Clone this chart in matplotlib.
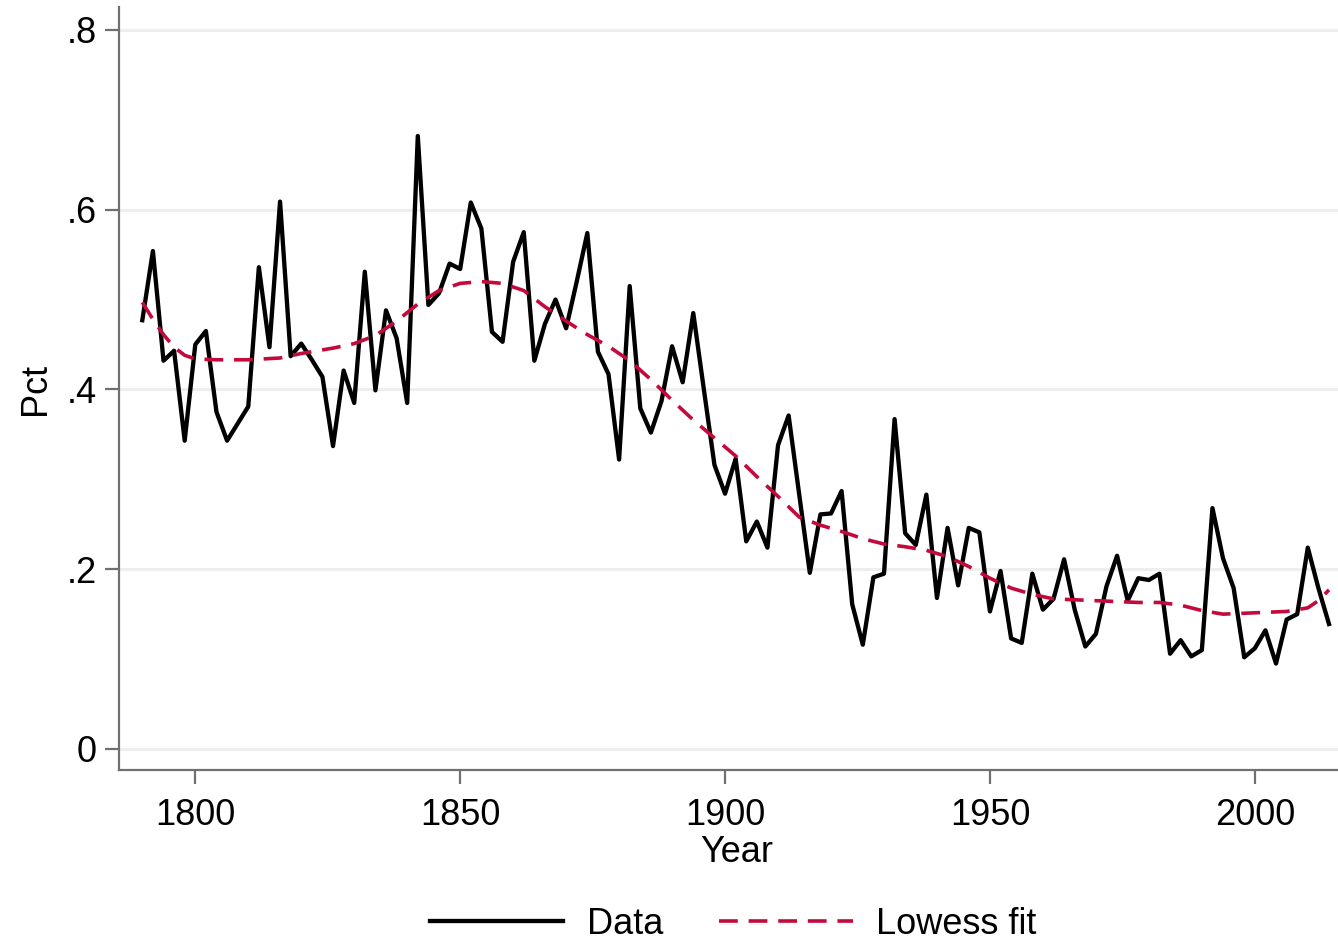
import matplotlib
matplotlib.use('Agg')
import matplotlib.pyplot as plt

plt.rcParams['font.family'] = ['Liberation Sans', 'DejaVu Sans']

# biennial values 1790-2014
years = list(range(1790, 2015, 2))
pct = [0.477, 0.554, 0.432, 0.443, 0.343, 0.450, 0.465, 0.375, 0.343, 0.362,
       0.381, 0.536, 0.447, 0.609, 0.437, 0.451, 0.433, 0.414, 0.337, 0.421,
       0.385, 0.531, 0.399, 0.488, 0.457, 0.385, 0.682, 0.494, 0.507, 0.540,
       0.534, 0.608, 0.579, 0.464, 0.453, 0.542, 0.575, 0.432, 0.473, 0.500,
       0.468, 0.520, 0.574, 0.442, 0.417, 0.322, 0.515, 0.379, 0.352, 0.387,
       0.448, 0.408, 0.485, 0.400, 0.316, 0.284, 0.323, 0.231, 0.253, 0.224,
       0.338, 0.371, 0.283, 0.196, 0.261, 0.262, 0.287, 0.161, 0.116, 0.191,
       0.195, 0.367, 0.240, 0.227, 0.283, 0.168, 0.246, 0.182, 0.246, 0.241,
       0.153, 0.198, 0.123, 0.118, 0.195, 0.155, 0.167, 0.211, 0.155, 0.114,
       0.128, 0.181, 0.215, 0.165, 0.190, 0.188, 0.195, 0.106, 0.121, 0.103,
       0.110, 0.268, 0.212, 0.179, 0.102, 0.112, 0.132, 0.095, 0.144, 0.150,
       0.224, 0.179, 0.139]

# lowess curve
fit_years = [1790, 1792, 1794, 1796, 1798, 1800, 1804, 1810, 1816, 1820, 1826,
             1830, 1834, 1838, 1842, 1846, 1850, 1854, 1858, 1862, 1866, 1870,
             1874, 1878, 1882, 1886, 1890, 1894, 1898, 1902, 1906, 1910, 1914,
             1918, 1922, 1926, 1930, 1934, 1938, 1942, 1946, 1950, 1954, 1958,
             1962, 1966, 1970, 1974, 1978, 1982, 1986, 1990, 1994, 1998, 2002,
             2006, 2010, 2012, 2014]
fit = [0.497, 0.478, 0.461, 0.447, 0.438, 0.434, 0.433, 0.433, 0.435, 0.440,
       0.446, 0.451, 0.460, 0.476, 0.495, 0.510, 0.518, 0.520, 0.518, 0.510,
       0.492, 0.476, 0.461, 0.448, 0.432, 0.411, 0.388, 0.366, 0.346, 0.326,
       0.303, 0.281, 0.258, 0.249, 0.242, 0.234, 0.228, 0.225, 0.221, 0.214,
       0.203, 0.190, 0.179, 0.172, 0.167, 0.166, 0.165, 0.164, 0.163, 0.163,
       0.160, 0.154, 0.150, 0.151, 0.152, 0.153, 0.157, 0.165, 0.177]

yticks = [0, 0.2, 0.4, 0.6, 0.8]
ytick_labels = ['0', '.2', '.4', '.6', '.8']
xticks = [1800, 1850, 1900, 1950, 2000]

fig = plt.figure(figsize=(13.38, 9.41), dpi=100)
ax = fig.add_axes([119/1338, 171/941, 1219/1338, 763/941])

ax.plot(years, pct, color='black', lw=3.1, label='Data', zorder=3)
ax.plot(fit_years, fit, color='#c40a3c', lw=2.6, dashes=(5.2, 3.0),
        label='Lowess fit', zorder=4)

ax.set_xlim(1785.6, 2015.7)
ax.set_ylim(-0.0234, 0.8255)
ax.set_yticks(yticks)
ax.set_yticklabels(ytick_labels)
ax.set_xticks(xticks)
ax.grid(axis='y', color='#eeeeee', lw=2.2, zorder=0)
ax.set_axisbelow(True)

for s in ['top', 'right']:
    ax.spines[s].set_visible(False)
for s in ['left', 'bottom']:
    ax.spines[s].set_color('#707070')
    ax.spines[s].set_linewidth(1.6)
ax.tick_params(length=10, width=1.6, color='#707070', labelsize=26, pad=6)
ax.tick_params(axis='x', pad=10)

ax.set_xlabel('Year', fontsize=26)
ax.xaxis.set_label_coords((737 - 119) / 1219, -0.085)
ax.set_ylabel('Pct', fontsize=26, labelpad=10)

fig.legend(loc='center', bbox_to_anchor=(733/1338, 1 - 924/941), ncol=2,
           frameon=False, fontsize=26, handlelength=3.7, handletextpad=0.65,
           columnspacing=1.55)

fig.savefig('out.png', dpi=100)
